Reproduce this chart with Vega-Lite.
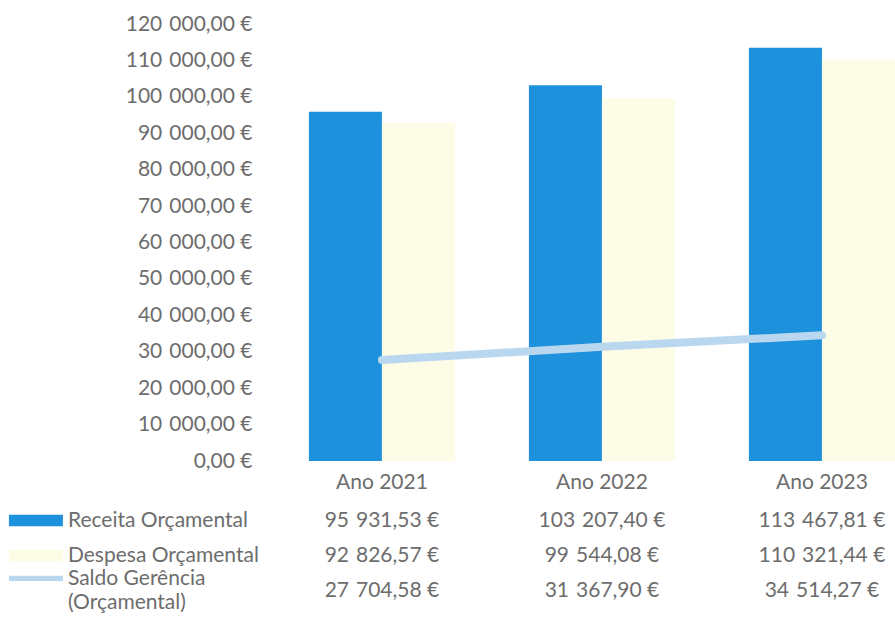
{
  "$schema": "https://vega.github.io/schema/vega-lite/v6.json",
  "padding": {"top": 13, "left": 0, "right": 0, "bottom": 0},
  "config": {
    "view": {"stroke": null},
    "font": "Lato",
    "locale": {"number": {"decimal": ",", "thousands": "\u2004", "grouping": [3], "currency": ["", " €"]}}
  },
  "datasets": {
    "main": [
      {"year": "Ano 2021", "series": "Receita Orçamental", "value": 95931.53},
      {"year": "Ano 2021", "series": "Despesa Orçamental", "value": 92826.57},
      {"year": "Ano 2021", "series": "Saldo Gerência\n(Orçamental)", "value": 27704.58},
      {"year": "Ano 2022", "series": "Receita Orçamental", "value": 103207.40},
      {"year": "Ano 2022", "series": "Despesa Orçamental", "value": 99544.08},
      {"year": "Ano 2022", "series": "Saldo Gerência\n(Orçamental)", "value": 31367.90},
      {"year": "Ano 2023", "series": "Receita Orçamental", "value": 113467.81},
      {"year": "Ano 2023", "series": "Despesa Orçamental", "value": 110321.44},
      {"year": "Ano 2023", "series": "Saldo Gerência\n(Orçamental)", "value": 34514.27}
    ]
  },
  "data": {"name": "main"},
  "spacing": 11,
  "resolve": {"scale": {"x": "independent", "y": "independent", "color": "independent"}},
  "vconcat": [
    {
      "width": 895,
      "height": 437,
      "encoding": {
        "x": {
          "field": "year", "type": "nominal", "title": null,
          "scale": {"type": "band", "domain": ["Legenda", "Ano 2021", "Ano 2022", "Ano 2023"], "paddingInner": 0.336, "paddingOuter": 0.202, "align": 1},
          "axis": {"values": ["Ano 2021", "Ano 2022", "Ano 2023"], "domain": false, "ticks": false, "labelAngle": 0, "labelPadding": 10, "labelFontSize": 21, "labelColor": "#6d6d6d"}
        },
        "y": {
          "field": "value", "type": "quantitative", "title": null,
          "scale": {"domain": [0, 120000]},
          "axis": {"values": [0, 10000, 20000, 30000, 40000, 50000, 60000, 70000, 80000, 90000, 100000, 110000, 120000], "format": "$,.2f", "offset": -273, "labelOverlap": false, "grid": false, "domain": false, "ticks": false, "tickSize": 0, "labelPadding": 21, "labelFontSize": 21, "labelColor": "#6d6d6d"}
        }
      },
      "layer": [
        {
          "transform": [{"filter": {"field": "series", "oneOf": ["Receita Orçamental", "Despesa Orçamental"]}}],
          "mark": {"type": "bar"},
          "encoding": {
            "xOffset": {"field": "series", "type": "nominal", "scale": {"domain": ["Receita Orçamental", "Despesa Orçamental"], "paddingInner": 0, "paddingOuter": 0}},
            "color": {"field": "series", "type": "nominal", "scale": {"domain": ["Receita Orçamental", "Despesa Orçamental"], "range": ["#1e91dc", "#fdfde7"]}, "legend": null}
          }
        },
        {
          "transform": [{"filter": {"field": "series", "oneOf": ["Saldo Gerência\n(Orçamental)"]}}],
          "mark": {"type": "line", "color": "#bad7f0", "strokeWidth": 8, "strokeCap": "round"},
          "encoding": {}
        }
      ]
    },
    {
      "width": 895,
      "height": 105,
      "encoding": {
        "x": {"field": "year", "type": "nominal", "title": null, "scale": {"type": "band", "domain": ["Legenda", "Ano 2021", "Ano 2022", "Ano 2023"], "paddingInner": 0.336, "paddingOuter": 0.202, "align": 1}, "axis": null},
        "y": {"field": "series", "type": "nominal", "scale": {"type": "band", "domain": ["Receita Orçamental", "Despesa Orçamental", "Saldo Gerência\n(Orçamental)"], "paddingInner": 0, "paddingOuter": 0}, "axis": null}
      },
      "layer": [
        {
          "mark": {"type": "text", "fontSize": 21, "color": "#6d6d6d"},
          "encoding": {
            "text": {"field": "value", "type": "quantitative", "format": "$,.2f"}
          }
        },
        {
          "transform": [
            {"filter": {"field": "year", "equal": "Ano 2021"}},
            {"filter": {"field": "series", "oneOf": ["Receita Orçamental", "Despesa Orçamental"]}}
          ],
          "mark": {"type": "text", "align": "left", "dx": -94, "fontSize": 21, "color": "#6d6d6d"},
          "encoding": {
            "x": {"datum": "Legenda"},
            "text": {"field": "series"}
          }
        },
        {
          "transform": [
            {"filter": {"field": "year", "equal": "Ano 2021"}},
            {"filter": {"field": "series", "oneOf": ["Saldo Gerência\n(Orçamental)"]}}
          ],
          "mark": {"type": "text", "align": "left", "dx": -94, "dy": -12, "fontSize": 21, "color": "#6d6d6d", "lineBreak": "\n", "lineHeight": 24},
          "encoding": {
            "x": {"datum": "Legenda"},
            "text": {"field": "series"}
          }
        },
        {
          "transform": [{"filter": {"field": "year", "equal": "Ano 2021"}}],
          "mark": {"type": "point", "filled": true, "opacity": 1, "xOffset": -126, "size": 2916, "strokeWidth": 0},
          "encoding": {
            "x": {"datum": "Legenda"},
            "shape": {"field": "series", "type": "nominal", "scale": {"domain": ["Receita Orçamental", "Despesa Orçamental", "Saldo Gerência\n(Orçamental)"], "range": ["M-1,-0.21H1V0.21H-1Z", "M-1,-0.21H1V0.21H-1Z", "M-1,-0.55H1V-0.35H-1Z"]}, "legend": null},
            "color": {"field": "series", "type": "nominal", "scale": {"domain": ["Receita Orçamental", "Despesa Orçamental", "Saldo Gerência\n(Orçamental)"], "range": ["#1e91dc", "#fdfde7", "#bad7f0"]}, "legend": null}
          }
        }
      ]
    }
  ]
}
